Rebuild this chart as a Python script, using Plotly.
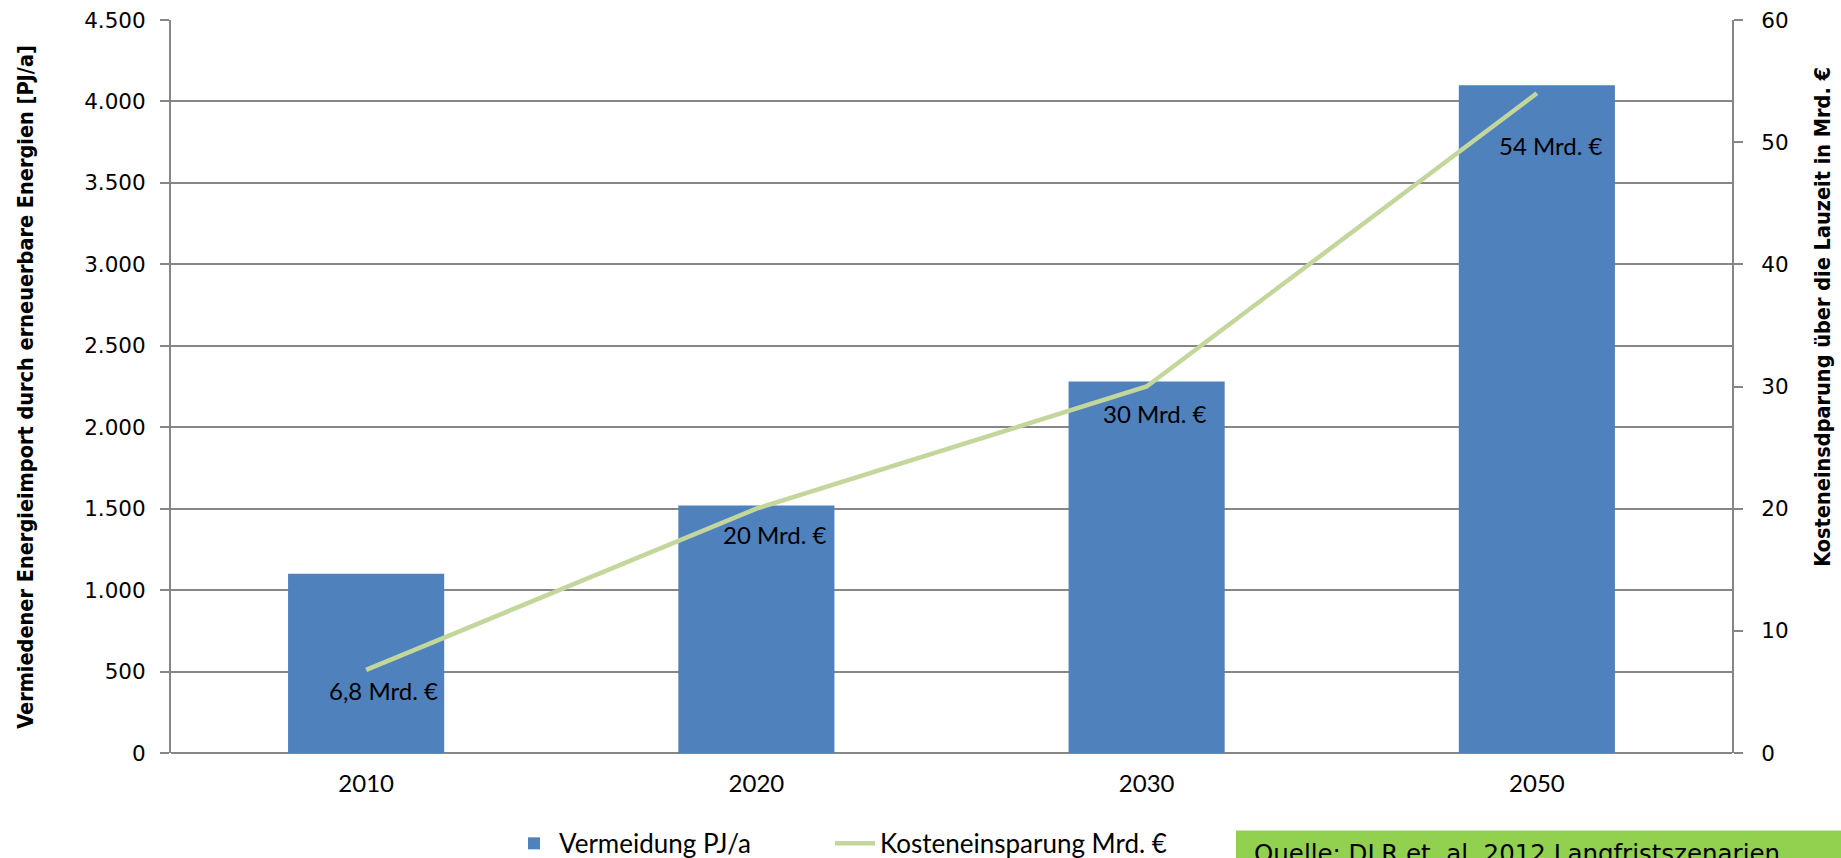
import plotly.graph_objects as go

# Data
years = ["2010", "2020", "2030", "2050"]
vermeidung_pj = [1100, 1520, 2280, 4100]          # PJ/a (left axis)
einsparung_mrd = [6.8, 20, 30, 54]                # Mrd. € (right axis)
left_ticks = [0, 500, 1000, 1500, 2000, 2500, 3000, 3500, 4000, 4500]
right_ticks = [0, 10, 20, 30, 40, 50, 60]

# Label offsets (px) relative to the line points
label_dx = [17, 19, 8, 14]
label_dy = [-21, -26, -27, -52]

BAR_COLOR = "#4F81BD"
LINE_COLOR = "#C3D69B"
GRID_COLOR = "#868686"
TICK_FONT = dict(family="DejaVu Sans", size=21.5, color="#000000")
LABEL_FONT = dict(family="Lato", size=24, color="#000000")
LEGEND_FONT = dict(family="Lato", size=26, color="#000000")
TITLE_FONT = dict(family="DejaVu Sans Condensed", size=21.5, color="#000000", weight="bold")

# plot area in pixels
PL, PR, PT, PB = 171, 1732, 20, 753.5
PW, PH = PR - PL, PB - PT

def px_x(x):
    return (x - PL) / PW

def px_y(y):
    return (PB - y) / PH

fig = go.Figure()

fig.add_trace(go.Bar(
    x=years, y=vermeidung_pj, name="Vermeidung PJ/a",
    marker=dict(color=BAR_COLOR, line=dict(width=0)),
    yaxis="y", legend="legend",
))

fig.add_trace(go.Scatter(
    x=years, y=einsparung_mrd, name="Kosteneinsparung Mrd. €",
    mode="lines", line=dict(color=LINE_COLOR, width=4.5),
    yaxis="y2", legend="legend2",
))

def fmt_mrd(v):
    return f"{v:g}".replace(".", ",") + " Mrd. €"

annotations = []
# category positions are given by index so year-like names are not read as numbers
for i, (v, dx, dy) in enumerate(zip(einsparung_mrd, label_dx, label_dy)):
    annotations.append(dict(
        x=i, y=v, xref="x", yref="y2", text=fmt_mrd(v), showarrow=False,
        xshift=dx, yshift=dy, font=LABEL_FONT,
    ))

# Axis titles
annotations.append(dict(
    x=px_x(26), y=px_y(387), xref="paper", yref="paper",
    xanchor="center", yanchor="middle", textangle=-90, showarrow=False,
    text="Vermiedener Energieimport durch erneuerbare Energien [PJ/a]",
    font=TITLE_FONT,
))
annotations.append(dict(
    x=px_x(1823), y=px_y(317), xref="paper", yref="paper",
    xanchor="center", yanchor="middle", textangle=-90, showarrow=False,
    text="Kosteneinsdparung über die Lauzeit in Mrd. €",
    font=TITLE_FONT,
))

# Source note box below the plot
annotations.append(dict(
    x=px_x(1252), y=px_y(838), xref="paper", yref="paper",
    xanchor="left", yanchor="top", showarrow=False,
    text="Quelle: DLR et. al. 2012 Langfristszenarien",
    font=dict(family="DejaVu Sans", size=24.5, color="#000000"),
))

shapes = [dict(
    type="rect", xref="paper", yref="paper",
    x0=px_x(1236), x1=px_x(1860), y0=px_y(831), y1=px_y(880),
    fillcolor="#92D050", line=dict(width=0), layer="below",
)]

legend_common = dict(
    orientation="h", xanchor="left", y=px_y(844), yanchor="middle",
    font=LEGEND_FONT, itemwidth=40, bgcolor="rgba(0,0,0,0)",
)

fig.update_layout(
    width=1841, height=858,
    margin=dict(l=PL, r=1841 - PR, t=PT, b=858 - PB, autoexpand=False),
    paper_bgcolor="white", plot_bgcolor="white",
    separators=",.",
    bargap=0.6,
    showlegend=True,
    legend=dict(x=px_x(509), **legend_common),
    legend2=dict(x=px_x(830), **legend_common),
    xaxis=dict(
        type="category", range=[-0.5, 3.5], showline=False, ticks="", showgrid=False,
        tickfont=LABEL_FONT, ticklabelstandoff=14,
    ),
    yaxis=dict(
        range=[0, 4500], tickvals=left_ticks, tickformat=",d",
        showgrid=True, gridcolor=GRID_COLOR, gridwidth=2,
        showline=True, linecolor=GRID_COLOR, linewidth=2,
        ticks="outside", ticklen=9, tickcolor=GRID_COLOR, tickwidth=2,
        zeroline=True, zerolinecolor=GRID_COLOR, zerolinewidth=2,
        tickfont=TICK_FONT, ticklabelstandoff=10,
    ),
    yaxis2=dict(
        range=[0, 60], tickvals=right_ticks, overlaying="y", side="right",
        showgrid=False, zeroline=False,
        showline=True, linecolor=GRID_COLOR, linewidth=2,
        ticks="outside", ticklen=9, tickcolor=GRID_COLOR, tickwidth=2,
        tickfont=TICK_FONT, ticklabelstandoff=14,
    ),
    annotations=annotations,
    shapes=shapes,
)

fig.write_html("out.html")
